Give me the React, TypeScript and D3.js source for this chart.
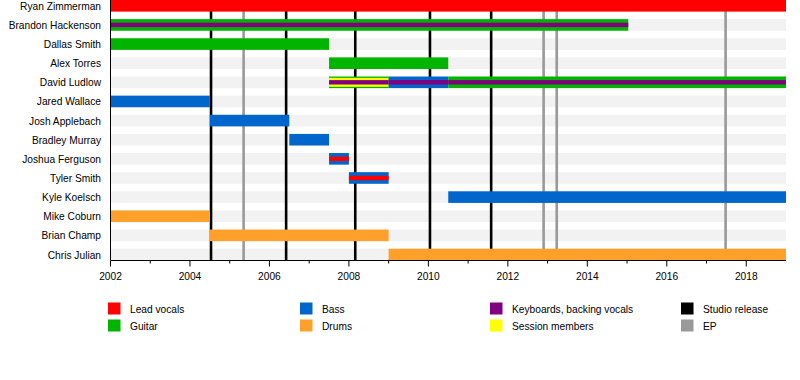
import React from "react";
import * as d3 from "d3";

const members = [
  "Ryan Zimmerman", "Brandon Hackenson", "Dallas Smith", "Alex Torres", "David Ludlow",
  "Jared Wallace", "Josh Applebach", "Bradley Murray", "Joshua Ferguson", "Tyler Smith",
  "Kyle Koelsch", "Mike Coburn", "Brian Champ", "Chris Julian",
];

const roles = ["Lead vocals", "Guitar", "Bass", "Drums", "Keyboards, backing vocals", "Session members", "Studio release", "EP"];
const roleColors = ["#ff0000", "#00b400", "#0066cc", "#ffa02a", "#800080", "#ffff00", "#000000", "#999999"];

// [member, role, start, end, layer]  layer 0 = full bar, 1 = medium stripe, 2 = thin stripe
const periods: [string, string, number, number, number][] = [
  ["Ryan Zimmerman", "Lead vocals", 2002, 2019, 0],
  ["Brandon Hackenson", "Guitar", 2002, 2015.03, 0],
  ["Brandon Hackenson", "Keyboards, backing vocals", 2002, 2015.03, 2],
  ["Dallas Smith", "Guitar", 2002, 2007.5, 0],
  ["Alex Torres", "Guitar", 2007.5, 2010.5, 0],
  ["David Ludlow", "Guitar", 2007.5, 2009.0, 0],
  ["David Ludlow", "Session members", 2007.5, 2009.0, 1],
  ["David Ludlow", "Keyboards, backing vocals", 2007.5, 2009.0, 2],
  ["David Ludlow", "Bass", 2009.0, 2010.5, 0],
  ["David Ludlow", "Keyboards, backing vocals", 2009.0, 2010.5, 2],
  ["David Ludlow", "Guitar", 2010.5, 2019, 0],
  ["David Ludlow", "Keyboards, backing vocals", 2010.5, 2019, 2],
  ["Jared Wallace", "Bass", 2002, 2004.5, 0],
  ["Josh Applebach", "Bass", 2004.5, 2006.5, 0],
  ["Bradley Murray", "Bass", 2006.5, 2007.5, 0],
  ["Joshua Ferguson", "Bass", 2007.5, 2008.0, 0],
  ["Joshua Ferguson", "Lead vocals", 2007.5, 2008.0, 2],
  ["Tyler Smith", "Bass", 2008.0, 2009.0, 0],
  ["Tyler Smith", "Lead vocals", 2008.0, 2009.0, 2],
  ["Kyle Koelsch", "Bass", 2010.5, 2019, 0],
  ["Mike Coburn", "Drums", 2002, 2004.5, 0],
  ["Brian Champ", "Drums", 2004.5, 2009.0, 0],
  ["Chris Julian", "Drums", 2009.0, 2019, 0],
];

const studioReleases = [2004.53, 2006.42, 2008.16, 2010.04, 2011.58];
const eps = [2005.35, 2012.9, 2013.23, 2017.48];

const majorTicks = [2002, 2004, 2006, 2008, 2010, 2012, 2014, 2016, 2018];
const minorTicks = [2003, 2005, 2007, 2009, 2011, 2013, 2015, 2017];

const legendColumns = [
  ["Lead vocals", "Guitar"],
  ["Bass", "Drums"],
  ["Keyboards, backing vocals", "Session members"],
  ["Studio release", "EP"],
];

export default function App() {
  const x = d3.scaleLinear().domain([2002, 2019]).range([110.5, 786]);
  const y = d3.scalePoint<string>().domain(members).range([5.8, 254.5]);
  const color = d3.scaleOrdinal<string, string>().domain(roles).range(roleColors);
  const barH = [11.6, 9, 4.4];
  const axisY = 260.5;
  const font = "'Liberation Sans', Arial, sans-serif";
  const fs = 10.2;
  const legendX = [108, 300, 490, 681];
  const legendY = [302.5, 319.5];

  return (
    <svg width={800} height={380} style={{ position: "absolute", left: 0, top: 0, background: "#fff" }} fontFamily={font}>
      {members.map((m) => (
        <rect key={"bg" + m} x={x(2002)} width={x(2019) - x(2002)} y={y(m)! - barH[0] / 2} height={barH[0]} fill="#f2f2f2" />
      ))}
      {studioReleases.map((v, i) => (
        <line key={"s" + i} x1={x(v)} x2={x(v)} y1={0} y2={axisY} stroke="#000" strokeWidth={2.6} />
      ))}
      {eps.map((v, i) => (
        <line key={"e" + i} x1={x(v)} x2={x(v)} y1={0} y2={axisY} stroke="#999" strokeWidth={2.6} />
      ))}
      {periods.map(([m, r, s, e, layer], i) => (
        <rect
          key={"p" + i}
          x={x(s)}
          width={x(e) - x(s)}
          y={y(m)! - barH[layer] / 2}
          height={barH[layer]}
          fill={color(r)}
        />
      ))}
      <line x1={x(2002)} x2={x(2002)} y1={0} y2={axisY} stroke="#000" strokeWidth={1} />
      <line x1={x(2002)} x2={x(2019)} y1={axisY} y2={axisY} stroke="#000" strokeWidth={1} />
      {majorTicks.map((t) => (
        <g key={"mt" + t}>
          <line x1={x(t)} x2={x(t)} y1={axisY} y2={axisY + 6} stroke="#000" />
          <text x={x(t)} y={279.5} fontSize={fs} textAnchor="middle" fill="#000">{t}</text>
        </g>
      ))}
      {minorTicks.map((t) => (
        <line key={"nt" + t} x1={x(t)} x2={x(t)} y1={axisY} y2={axisY + 3} stroke="#000" />
      ))}
      {members.map((m) => (
        <text key={"l" + m} x={101} y={y(m)! + 4} fontSize={fs} textAnchor="end" fill="#000">{m}</text>
      ))}
      {legendColumns.map((col, ci) =>
        col.map((r, ri) => (
          <g key={"lg" + r}>
            <rect x={legendX[ci]} y={legendY[ri]} width={12.5} height={12} fill={color(r)} />
            <text x={legendX[ci] + 22} y={legendY[ri] + 10} fontSize={fs} fill="#000">{r}</text>
          </g>
        ))
      )}
    </svg>
  );
}
